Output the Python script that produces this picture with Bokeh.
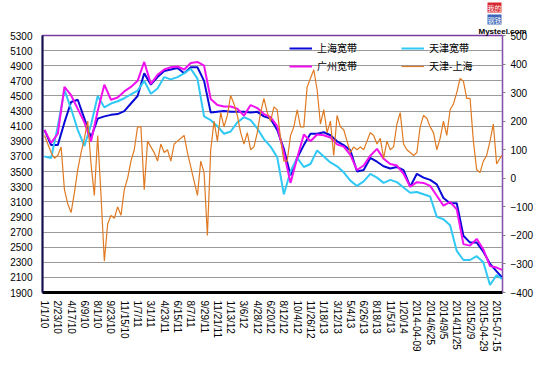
import numpy as np
from bokeh.plotting import figure
from bokeh.models import (Range1d, LinearAxis, FixedTicker, Legend, LegendItem, Title,
                          ColumnDataSource)
from bokeh.embed import file_html
from bokeh.resources import INLINE

# ---- data ----
tick_labels = ["1/1/10", "2/23/10", "4/17/10", "6/9/10", "8/1/10", "9/23/10", "11/15/10",
               "1/7/11", "3/1/11", "4/23/11", "6/15/11", "8/7/11", "9/29/11", "11/21/11",
               "1/13/12", "3/6/12", "4/28/12", "6/20/12", "8/12/12", "10/4/12", "11/26/12",
               "1/18/13", "3/12/13", "5/4/13", "6/26/13", "8/18/13", "11/5/13", "1/20/14",
               "2014-04-09", "2014/6/25", "2014/9/5", "2014/11/25", "2015/2/9",
               "2015-04-29", "2015-07-15"]

shanghai = [4050, 3850, 3850, 4150, 4420, 4450, 4200, 3950, 4200, 4230,
            4250, 4260, 4300, 4400, 4500, 4800, 4650, 4750, 4830, 4850,
            4870, 4800, 4880, 4880, 4700, 4280, 4290, 4300, 4290, 4290,
            4290, 4280, 4290, 4230, 4200, 4050, 3800, 3450, 3680, 3850,
            4000, 4000, 4020, 3980, 3900, 3850, 3780, 3500, 3520, 3680,
            3630, 3570, 3540, 3560, 3520, 3300, 3470, 3420, 3390, 3330,
            3150, 3080, 3080, 2650, 2560, 2560, 2440, 2280, 2180, 2100]

tianjin = [3700, 3680, 4100, 4580, 4330, 4050, 3840, 4120, 4500, 4350,
           4400, 4430, 4470, 4520, 4570, 4700, 4530, 4600, 4750, 4720,
           4750, 4800, 4860, 4730, 4230, 4180, 4100, 4000, 4030, 4150,
           4220, 4180, 4070, 3930, 3830, 3690, 3200, 3500, 3680, 3560,
           3600, 3780, 3700, 3620, 3570, 3490, 3380, 3310, 3370, 3470,
           3420, 3350, 3390, 3360, 3290, 3220, 3230, 3200, 3170, 2900,
           2870, 2790, 2450, 2330, 2330, 2380, 2300, 2000, 2130, 2080]

guangzhou = [4050, 3880, 4000, 4620, 4510, 4330, 4150, 3900, 4300, 4650,
             4450, 4480, 4560, 4620, 4700, 4950, 4660, 4780, 4850, 4880,
             4890, 4850, 4935, 4950, 4900, 4460, 4380, 4360, 4360, 4330,
             4240, 4380, 4340, 4260, 4220, 4100, 3750, 3350, 3680, 3990,
             3900, 3990, 3980, 3950, 3860, 3830, 3720, 3520, 3580, 3710,
             3800, 3670, 3600, 3580, 3470, 3300, 3360, 3350, 3310, 3180,
             3050, 3100, 3000, 2540, 2520, 2610, 2470, 2250, 2230, 2200]

spread = [150, 120, 90, 70, 80, 110, -40, -90, -120, -50,
          30, 90, 140, 200, 50, -60, 150, -60, -290, -160,
          -130, -140, -100, -130, -40, 0, 60, 100, 180, 180,
          -40, 130, 110, 90, 60, 120, 90, 100, 60, 120,
          130, 140, 150, 90, 40, -10, -60, 60, 20, -200,
          100, 200, 130, 230, 180, 220, 290, 260, 220, 160,
          120, 160, 100, 110, 160, 230, 280, 230, 200, 250,
          240, 140, 60, 60, 150, 180, 240, 180, 180, 320,
          350, 380, 310, 190, 240, 160, 200, 80, 220, 180,
          170, 130, 90, 110, 100, 110, 100, 130, 160, 150,
          120, 140, 70, 130, 100, 110, 190, 230, 120, 100,
          90, 80, 90, 180, 220, 210, 180, 160, 100, 140,
          200, 150, 240, 260, 300, 350, 340, 280, 280, 130,
          30, 20, 60, 80, 130, 190, 50, 70, 80]

# x positions: index along the date axis (one tick label per unit)
x_main = list(np.arange(len(shanghai) - 1) * 0.5) + [34.4]
x_spread = list(np.arange(len(spread) - 1) * 0.25) + [34.4]

main_src = ColumnDataSource(dict(x=x_main, sh=shanghai, tj=tianjin, gz=guangzhou))
spread_src = ColumnDataSource(dict(x=x_spread, d=spread))

FONT = "Liberation Sans"
CJK = "Noto Sans CJK SC"

p = figure(width=546, height=362, output_backend="svg", toolbar_location=None,
           x_range=Range1d(-0.15, 34.44), y_range=Range1d(1900, 5300),
           min_border_left=42, min_border_right=44, min_border_top=28, min_border_bottom=70,
           background_fill_color="white", border_fill_color="white")
p.extra_y_ranges = {"right": Range1d(-400, 500)}

p.outline_line_color = "#7a3da0"
p.outline_line_width = 1.5

# left axis
ya = p.yaxis[0]
ya.ticker = FixedTicker(ticks=list(range(1900, 5301, 200)))
ya.axis_line_color = "#10104a"
ya.axis_line_width = 2
ya.major_tick_out = 0
ya.major_tick_in = 0
ya.minor_tick_out = 0
ya.minor_tick_in = 0
ya.major_label_standoff = 10
ya.major_label_text_font = FONT
ya.major_label_text_font_size = "10px"
ya.major_label_text_color = "black"

# bottom axis
xa = p.xaxis[0]
xa.ticker = FixedTicker(ticks=list(range(len(tick_labels))))
xa.major_label_overrides = {i: t for i, t in enumerate(tick_labels)}
xa.major_label_orientation = "vertical"
xa.axis_line_color = "black"
xa.axis_line_width = 3
xa.major_tick_out = 0
xa.major_tick_in = 0
xa.minor_tick_out = 0
xa.minor_tick_in = 0
xa.major_label_standoff = 8
xa.major_label_text_font = FONT
xa.major_label_text_font_size = "10px"
xa.major_label_text_color = "black"

# right axis
ra = LinearAxis(y_range_name="right", ticker=FixedTicker(ticks=list(range(-400, 501, 100))))
ra.axis_line_color = "#8a50b0"
ra.axis_line_width = 1
ra.major_tick_out = 3
ra.major_tick_in = 0
ra.major_tick_line_color = "#808080"
ra.minor_tick_out = 0
ra.minor_tick_in = 0
ra.major_label_standoff = 5
ra.major_label_text_font = FONT
ra.major_label_text_font_size = "10px"
ra.major_label_text_color = "black"
p.add_layout(ra, "right")

p.xgrid.grid_line_color = None
p.ygrid.ticker = FixedTicker(ticks=list(range(1900, 5301, 200)))
p.ygrid.grid_line_color = "#9a9a9a"
p.ygrid.grid_line_width = 1

# series
r_sh = p.line("x", "sh", source=main_src, line_color="#0a0ad8", line_width=2)
r_tj = p.line("x", "tj", source=main_src, line_color="#30c8f4", line_width=2)
r_gz = p.line("x", "gz", source=main_src, line_color="#f010f0", line_width=2)
r_sp = p.line("x", "d", source=spread_src, y_range_name="right",
              line_color="#e07a22", line_width=1.2)

def make_legend(items, loc):
    lg = Legend(items=items, location=loc, orientation="horizontal",
                padding=0, margin=0, spacing=5, glyph_width=23, glyph_height=12,
                label_height=12, label_width=79, label_standoff=5,
                label_text_font=CJK, label_text_font_size="10px",
                label_text_color="black", background_fill_alpha=0,
                border_line_alpha=0)
    return lg

lg1 = make_legend([LegendItem(label="上海宽带", renderers=[r_sh]),
                   LegendItem(label="天津宽带", renderers=[r_tj])], (247, 237))
lg2 = make_legend([LegendItem(label="广州宽带", renderers=[r_gz]),
                   LegendItem(label="天津-上海", renderers=[r_sp])], (247, 219))
p.add_layout(lg1, "center")
p.add_layout(lg2, "center")

# logo (top right) as stacked titles above the frame (first added = nearest the frame)
p.add_layout(Title(text="Mysteel.com", text_font=FONT, text_font_size="8px",
                   text_font_style="bold", text_color="black", align="left",
                   offset=436, standoff=0), "above")
p.add_layout(Title(text="钢铁", text_font=CJK, text_font_size="7px", text_font_style="normal",
                   text_color="white", background_fill_color="#3a64b8", align="left",
                   offset=445, standoff=0), "above")
p.add_layout(Title(text="我的", text_font=CJK, text_font_size="7px", text_font_style="normal",
                   text_color="white", background_fill_color="#d8262e", align="left",
                   offset=445, standoff=0), "above")

open("out.html", "w").write(file_html(p, INLINE))
